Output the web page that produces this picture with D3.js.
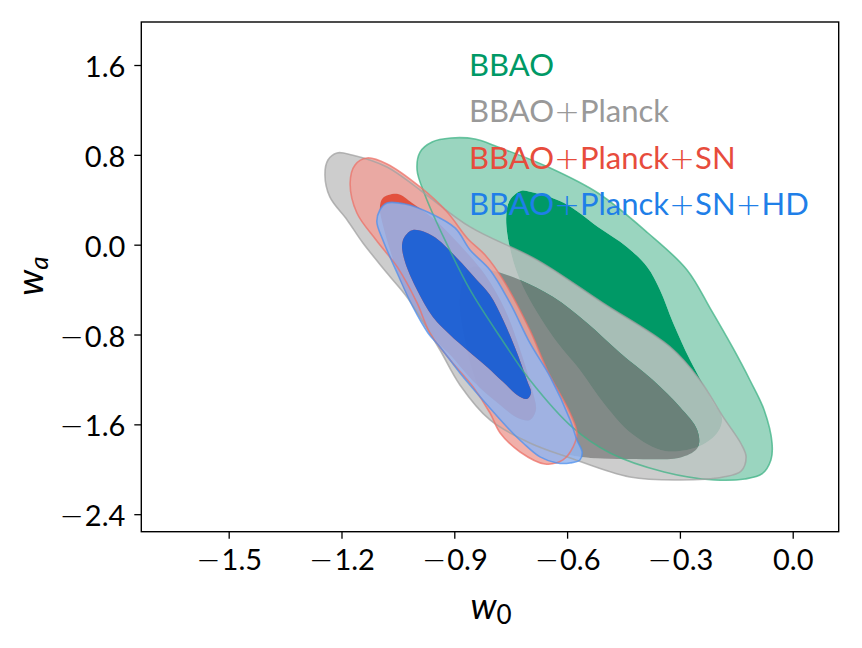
<!DOCTYPE html>
<html>
<head>
<meta charset="utf-8">
<script src="https://cdn.jsdelivr.net/npm/d3@7"></script>
<style>
  html, body { margin: 0; padding: 0; background: #fff; }
  svg { display: block; }
</style>
</head>
<body>
<svg id="chart" width="862" height="648"></svg>
<script>
// ---------- data (w0, wa) contour boundaries ----------
const xTicks = [-1.5, -1.2, -0.9, -0.6, -0.3, 0.0];
const yTicks = [1.6, 0.8, 0.0, -0.8, -1.6, -2.4];
const seriesNames = ["BBAO", "BBAO+Planck", "BBAO+Planck+SN", "BBAO+Planck+SN+HD"];

const bbaoOuter = [[-0.909,0.950],[-0.845,0.941],[-0.784,0.870],[-0.651,0.692],[-0.518,0.460],[-0.385,0.104],[-0.281,-0.225],[-0.217,-0.581],[-0.159,-0.920],[-0.114,-1.205],[-0.076,-1.472],[-0.055,-1.766],[-0.058,-1.917],[-0.082,-2.042],[-0.127,-2.086],[-0.209,-2.095],[-0.342,-2.024],[-0.486,-1.855],[-0.584,-1.632],[-0.699,-1.205],[-0.778,-0.822],[-0.858,-0.403],[-0.925,0.042],[-0.978,0.443],[-0.999,0.665],[-0.991,0.825],[-0.959,0.915]];
const bbaoInner = [[-0.723,0.478],[-0.696,0.469],[-0.608,0.371],[-0.518,0.158],[-0.441,-0.020],[-0.387,-0.199],[-0.353,-0.403],[-0.318,-0.697],[-0.273,-1.027],[-0.212,-1.401],[-0.188,-1.543],[-0.199,-1.668],[-0.247,-1.793],[-0.340,-1.837],[-0.427,-1.686],[-0.499,-1.427],[-0.566,-1.116],[-0.637,-0.822],[-0.717,-0.377],[-0.749,-0.074],[-0.762,0.238],[-0.752,0.398]];

const planckOuter = [[-1.212,0.817],[-1.172,0.799],[-1.079,0.692],[-0.991,0.487],[-0.858,0.158],[-0.680,-0.136],[-0.505,-0.519],[-0.326,-0.911],[-0.247,-1.205],[-0.185,-1.534],[-0.137,-1.775],[-0.124,-1.890],[-0.137,-2.015],[-0.185,-2.069],[-0.300,-2.095],[-0.433,-2.069],[-0.592,-1.899],[-0.699,-1.766],[-0.805,-1.561],[-0.885,-1.249],[-0.938,-0.938],[-0.991,-0.644],[-1.026,-0.466],[-1.079,-0.252],[-1.143,0.015],[-1.185,0.220],[-1.231,0.425],[-1.244,0.621],[-1.236,0.754]];
const planckInner = [[-0.858,-0.207],[-0.805,-0.225],[-0.725,-0.314],[-0.637,-0.466],[-0.547,-0.697],[-0.459,-0.964],[-0.372,-1.205],[-0.300,-1.445],[-0.254,-1.650],[-0.252,-1.801],[-0.294,-1.890],[-0.433,-1.908],[-0.563,-1.890],[-0.672,-1.801],[-0.765,-1.606],[-0.832,-1.294],[-0.872,-0.849],[-0.885,-0.448]];

const snOuter = [[-1.132,0.772],[-1.079,0.719],[-0.991,0.514],[-0.919,0.291],[-0.866,0.060],[-0.818,-0.092],[-0.770,-0.314],[-0.699,-0.760],[-0.653,-1.116],[-0.592,-1.499],[-0.574,-1.677],[-0.584,-1.801],[-0.611,-1.917],[-0.659,-1.953],[-0.725,-1.846],[-0.778,-1.677],[-0.805,-1.499],[-0.850,-1.267],[-0.911,-1.027],[-0.965,-0.786],[-0.999,-0.519],[-1.050,-0.207],[-1.108,0.042],[-1.159,0.282],[-1.177,0.549],[-1.164,0.710]];
const snInner = [[-1.090,0.416],[-1.050,0.451],[-1.012,0.371],[-0.951,0.220],[-0.885,-0.003],[-0.818,-0.270],[-0.765,-0.581],[-0.725,-0.938],[-0.693,-1.294],[-0.683,-1.472],[-0.699,-1.561],[-0.731,-1.543],[-0.778,-1.427],[-0.845,-1.232],[-0.911,-0.982],[-0.938,-0.893],[-0.997,-0.626],[-1.044,-0.314],[-1.071,-0.047],[-1.090,0.175],[-1.098,0.327]];

const hdOuter = [[-1.079,0.371],[-1.031,0.362],[-0.965,0.282],[-0.898,0.149],[-0.858,-0.047],[-0.805,-0.225],[-0.752,-0.519],[-0.699,-0.875],[-0.645,-1.178],[-0.592,-1.561],[-0.574,-1.739],[-0.560,-1.846],[-0.566,-1.917],[-0.592,-1.944],[-0.627,-1.944],[-0.672,-1.890],[-0.717,-1.766],[-0.760,-1.623],[-0.824,-1.383],[-0.885,-1.142],[-0.938,-0.911],[-0.970,-0.786],[-1.010,-0.555],[-1.052,-0.252],[-1.090,0.042],[-1.106,0.202],[-1.098,0.309]];
const hdInner = [[-1.031,0.077],[-1.010,0.131],[-0.957,0.077],[-0.893,-0.118],[-0.840,-0.314],[-0.805,-0.448],[-0.770,-0.671],[-0.733,-0.964],[-0.707,-1.205],[-0.696,-1.321],[-0.707,-1.374],[-0.733,-1.338],[-0.770,-1.223],[-0.813,-1.089],[-0.866,-0.938],[-0.911,-0.804],[-0.957,-0.644],[-0.999,-0.403],[-1.031,-0.154],[-1.039,-0.003]];

// ---------- layout ----------
const svg = d3.select("#chart");
const L = 141.3, R = 838.7, T = 22, B = 531.7;
const x = d3.scaleLinear().domain([-1.7324, 0.1223]).range([L, R]);
const y = d3.scaleLinear().domain([-2.556, 1.983]).range([B, T]);
const FONT = "Lato, 'Open Sans', 'DejaVu Sans', sans-serif";
const SYM = "'DejaVu Sans', sans-serif";

svg.append("rect").attr("width", 862).attr("height", 648).attr("fill", "#fff");

const clip = svg.append("defs").append("clipPath").attr("id", "plotclip");
clip.append("rect").attr("x", L).attr("y", T).attr("width", R - L).attr("height", B - T);

const line = d3.line().x(d => x(d[0])).y(d => y(d[1])).curve(d3.curveCatmullRomClosed.alpha(0.5));

const sets = [
  { outer: bbaoOuter,   inner: bbaoInner,   light: "#9ad5bf", dark: "#009966", edge: "#3fb386", alpha: 1.0,  text: "#009966" },
  { outer: planckOuter, inner: planckInner, light: "#c4c4c4", dark: "#7d7d7d", edge: "#a2a2a2", alpha: 0.85, text: "#999999" },
  { outer: snOuter,     inner: snInner,     light: "#eea29b", dark: "#e63b25", edge: "#ec7268", alpha: 0.85, text: "#e74c3c" },
  { outer: hdOuter,     inner: hdInner,     light: "#94b5ee", dark: "#0066ee", edge: "#4d90ee", alpha: 0.85, text: "#1f7fe8" }
];

const plot = svg.append("g").attr("clip-path", "url(#plotclip)");
sets.forEach(s => {
  plot.append("path")
    .attr("d", line(s.outer) + line(s.inner))
    .attr("fill", s.light).attr("fill-rule", "evenodd")
    .attr("fill-opacity", s.alpha);
  plot.append("path")
    .attr("d", line(s.inner))
    .attr("fill", s.dark).attr("fill-opacity", s.alpha);
});
sets.forEach(s => {
  plot.append("path")
    .attr("d", line(s.outer))
    .attr("fill", "none").attr("stroke", s.edge)
    .attr("stroke-width", 1.6).attr("stroke-opacity", 0.75);
});

// ---------- legend text (math-style "+") ----------
const leg = svg.append("g").attr("font-family", FONT).attr("font-size", 31);
seriesNames.forEach((n, i) => {
  const t = leg.append("text").attr("x", 469).attr("y", 76 + i * 46.3).attr("fill", sets[i].text);
  n.split("+").forEach((part, j) => {
    if (j > 0) {
      t.append("tspan").attr("dx", 0).attr("font-family", SYM).attr("font-weight", 200).text("+");
      t.append("tspan").attr("dx", 0).text(part);
    } else {
      t.append("tspan").text(part);
    }
  });
});

// ---------- axes ----------
const fmt = d => Math.abs(d).toFixed(1);
const xAxis = svg.append("g").attr("transform", `translate(0,${B})`)
  .call(d3.axisBottom(x).tickValues(xTicks).tickFormat(fmt).tickSize(7).tickPadding(11));
const yAxis = svg.append("g").attr("transform", `translate(${L},0)`)
  .call(d3.axisLeft(y).tickValues(yTicks).tickFormat(fmt).tickSize(7).tickPadding(9));
[xAxis, yAxis].forEach(a => {
  a.select(".domain").remove();
  a.selectAll(".tick line").attr("stroke", "#000").attr("stroke-width", 1.3);
  a.selectAll(".tick text").attr("font-family", FONT).attr("font-size", 29).attr("fill", "#000")
    .each(function(d) {
      if (d < 0) {
        const el = d3.select(this);
        const num = el.text();
        el.text(null);
        el.append("tspan").attr("font-family", SYM).attr("font-weight", 200).text("\u2212");
        el.append("tspan").attr("dx", 1).text(num);
      }
    });
});
yAxis.selectAll(".tick text").attr("dy", "0.4em");

svg.append("rect").attr("x", L).attr("y", T).attr("width", R - L).attr("height", B - T)
  .attr("fill", "none").attr("stroke", "#000").attr("stroke-width", 1.4);

// axis labels
const xl = svg.append("text").attr("x", 491).attr("y", 619).attr("text-anchor", "middle")
  .attr("font-family", FONT).attr("font-size", 36);
xl.append("tspan").attr("font-style", "italic").text("w");
xl.append("tspan").attr("font-size", 26).attr("dy", 5).text("0");

const yl = svg.append("text").attr("transform", "translate(43,276) rotate(-90)")
  .attr("text-anchor", "middle").attr("font-family", FONT).attr("font-size", 36);
yl.append("tspan").attr("font-style", "italic").text("w");
yl.append("tspan").attr("font-style", "italic").attr("font-size", 26).attr("dy", 5).text("a");
</script>
</body>
</html>
